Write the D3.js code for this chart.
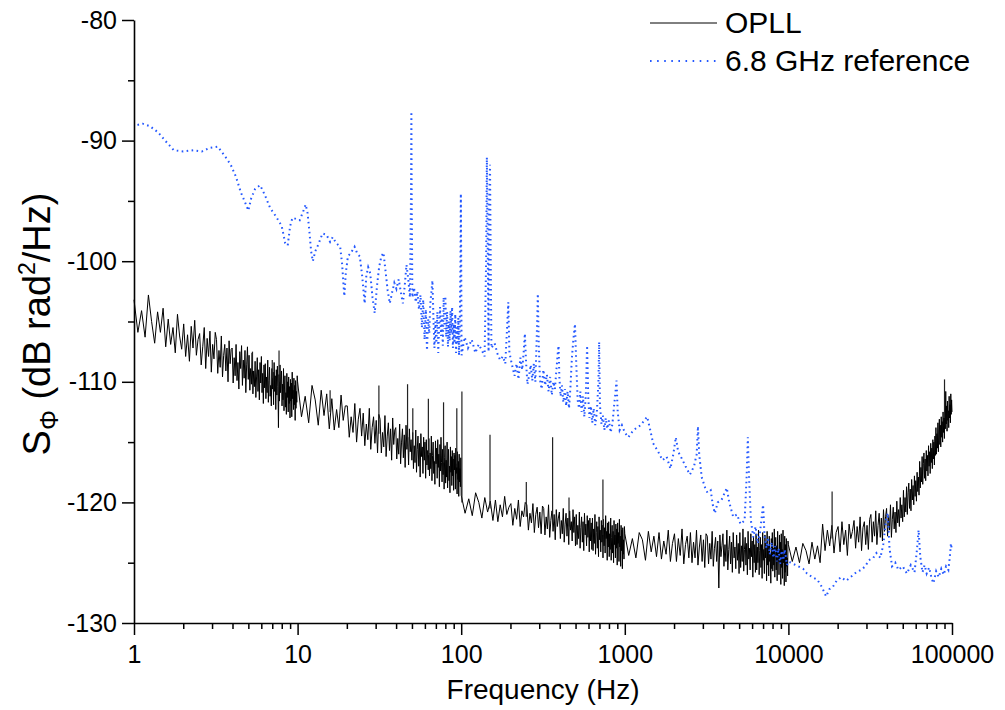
<!DOCTYPE html>
<html><head><meta charset="utf-8">
<script src="https://cdn.jsdelivr.net/npm/d3@7"></script>
<style>
body{margin:0;background:#fff}
text{font-family:"Liberation Sans",Arial,Helvetica,sans-serif;fill:#000}
</style>
</head><body>
<svg id="chart" width="1005" height="710"></svg>
<script>
// ---------- axis ticks ----------
const yTicks = [-130, -120, -110, -100, -90, -80];
const yMinorTicks = [-125, -115, -105, -95, -85];
const xTicks = [1, 10, 100, 1000, 10000, 100000];
const xTickLabels = ["1", "10", "100", "1000", "10000", "100000"];
const seriesNames = ["OPLL", "6.8 GHz reference"];

// ---------- OPLL trace: 160 analyser bins per decade, linearly spaced (dB rad^2/Hz) ----------
const opll1to10 = [
 -103.2,-105.9,-104.1,-106.3,-102.8,
 -105.0,-106.8,-104.2,-105.9,-103.9,-107.1,
 -104.8,-106.9,-105.5,-107.6,-104.4,-106.2,-107.3,
 -105.2,-107.9,-106.1,-108.3,-105.4,-107.2,-104.9,-107.8,-106.5,
 -106.0,-108.6,-107.1,-105.5,-108.9,-106.4,-107.9,-105.8,-109.2,-106.9,-108.1,-105.9,
 -106.5,-109.3,-107.4,-108.8,-106.2,-109.6,-107.8,-106.9,-109.1,-107.2,-110.0,-106.6,-108.5,-107.3,
 -107.2,-110.1,-108.0,-109.5,-106.9,-109.9,-108.4,-110.6,-107.5,-108.9,-107.0,-110.3,-108.2,-109.7,-107.4,-110.9,-108.6,-107.1,-109.8,
 -107.8,-110.7,-108.9,-110.2,-107.6,-111.0,-109.1,-110.4,-108.3,-111.3,-109.6,-108.0,-110.8,-109.0,-111.5,-108.4,-110.1,-107.9,-110.9,-109.3,-111.8,-108.6,-110.5,
 -108.5,-111.4,-109.6,-110.9,-108.2,-111.7,-109.9,-108.8,-111.2,-110.3,-112.0,-108.9,-110.6,-109.2,-111.9,-108.4,-110.8,-109.5,-112.3,-109.0,-111.1,-108.7,-110.4,-113.8,-109.4,-111.6,-108.6,-110.9,-109.8,
 -109.1,-112.0,-110.2,-111.5,-108.9,-112.4,-110.6,-109.5,-112.1,-110.9,-112.7,-109.3,-111.3,-110.0,-112.5,-109.6,-111.8,-110.4,-113.0,-109.8,-111.6,-110.1,-112.9,-109.2,-111.4,-110.7,-112.3,-109.7,-111.9,-110.3,-113.2,-109.9,-112.2,-110.8,-111.7,-109.5];
const opll10to100 = [
 -110.0,-112.9,-111.2,-113.4,-110.3,
 -111.5,-113.6,-110.7,-112.8,-111.0,-113.9,
 -111.4,-114.0,-112.3,-113.8,-111.1,-113.2,-112.0,
 -112.0,-114.6,-112.9,-114.2,-111.8,-115.0,-113.1,-112.2,-114.5,
 -112.6,-115.3,-113.5,-114.8,-112.2,-115.6,-113.8,-112.9,-115.1,-113.2,-115.9,-112.7,
 -113.1,-115.9,-114.2,-115.4,-112.8,-116.2,-114.5,-113.4,-115.7,-113.9,-116.5,-113.0,-115.2,-114.0,
 -113.8,-116.4,-114.7,-116.0,-113.5,-116.8,-115.0,-113.9,-116.3,-114.4,-117.1,-113.6,-115.6,-114.6,-116.9,-113.9,-115.8,-114.8,-116.5,
 -114.2,-117.2,-115.3,-116.7,-114.0,-117.5,-115.6,-114.5,-117.0,-115.1,-117.9,-114.3,-116.2,-115.4,-117.6,-114.6,-116.5,-115.0,-118.0,-114.8,-116.9,-115.7,-117.3,
 -114.7,-117.8,-115.9,-117.2,-114.5,-118.2,-116.1,-115.0,-117.6,-116.6,-118.5,-114.9,-116.8,-115.5,-118.0,-114.8,-117.1,-116.0,-118.7,-115.2,-117.4,-114.6,-116.7,-118.3,-115.6,-117.7,-115.1,-118.9,-116.3,
 -115.3,-118.4,-116.5,-117.9,-115.0,-118.8,-116.9,-115.6,-118.2,-117.0,-119.2,-115.4,-117.5,-116.2,-118.6,-115.7,-117.8,-116.4,-119.0,-115.9,-117.3,-116.1,-118.9,-115.5,-117.6,-116.8,-119.3,-115.8,-118.1,-116.6,-119.5,-116.0,-118.3,-117.2,-118.7,-116.3];
const opll100to1k = [
 -119.4,-120.9,-119.7,-121.1,-119.2,
 -120.0,-121.3,-119.6,-120.8,-119.9,-121.5,
 -119.8,-121.6,-120.2,-121.2,-119.5,-121.0,-120.4,
 -120.1,-121.9,-120.5,-121.4,-119.8,-122.0,-120.7,-121.2,-120.0,
 -120.2,-122.3,-120.9,-121.7,-120.1,-122.5,-121.0,-120.4,-122.1,-120.8,-122.6,-120.3,
 -120.5,-122.7,-121.2,-122.2,-120.2,-122.9,-121.5,-120.7,-122.4,-121.0,-123.1,-120.6,-122.0,-121.3,
 -120.8,-123.0,-121.5,-122.6,-120.5,-123.3,-121.8,-120.9,-122.8,-121.3,-123.5,-120.7,-122.3,-121.6,-123.2,-120.6,-122.5,-121.2,-123.6,
 -121.0,-123.5,-121.9,-123.0,-120.8,-123.8,-122.1,-121.2,-123.3,-121.6,-124.0,-120.9,-122.7,-121.8,-123.6,-121.1,-122.9,-121.5,-124.1,-121.3,-123.2,-121.7,-123.9,
 -121.3,-124.0,-122.2,-123.4,-121.0,-124.3,-122.5,-121.6,-123.8,-122.0,-124.5,-121.2,-123.1,-122.3,-124.1,-121.5,-123.3,-121.9,-124.6,-121.4,-123.6,-122.1,-124.2,-121.1,-123.0,-122.4,-124.8,-121.7,-123.7,
 -121.6,-124.5,-122.6,-123.9,-121.3,-124.8,-122.9,-121.9,-124.2,-122.4,-125.0,-121.5,-123.5,-122.7,-124.6,-121.8,-123.8,-122.2,-125.2,-121.7,-123.4,-122.5,-124.9,-121.4,-123.7,-122.8,-125.3,-121.9,-124.0,-122.3,-125.5,-122.1,-124.3,-123.1,-124.7,-122.0];
const opll1kto10k = [
 -122.6,-124.4,-123.0,-124.6,-122.5,
 -123.1,-124.8,-122.4,-124.1,-122.8,-124.5,
 -122.5,-124.7,-123.2,-124.3,-122.3,-124.9,-123.4,
 -122.6,-124.9,-123.0,-124.4,-122.2,-125.1,-123.5,-122.8,-124.6,
 -122.5,-125.0,-123.3,-124.6,-122.3,-125.2,-123.7,-122.7,-124.9,-123.1,-125.4,-122.6,
 -122.8,-125.1,-123.4,-124.7,-122.4,-125.3,-123.8,-122.9,-124.9,-123.2,-127.1,-122.7,-124.5,-123.6,
 -122.6,-125.3,-123.5,-124.9,-122.3,-125.6,-123.9,-122.8,-125.1,-123.3,-125.8,-122.5,-124.6,-123.7,-125.5,-122.7,-124.8,-123.4,-125.9,
 -122.5,-125.4,-123.6,-124.9,-122.2,-125.7,-123.9,-122.9,-125.2,-123.4,-126.0,-122.4,-124.7,-123.8,-125.6,-122.6,-124.5,-123.2,-126.2,-122.8,-125.0,-123.5,-125.8,
 -122.6,-125.6,-123.7,-125.0,-122.3,-126.0,-124.0,-122.9,-125.4,-123.5,-126.3,-122.5,-124.8,-123.9,-125.9,-122.7,-124.6,-123.3,-126.5,-122.4,-125.2,-123.6,-126.1,-122.8,-124.9,-124.2,-126.7,-123.0,-125.5,
 -122.5,-125.7,-123.8,-125.2,-122.2,-126.2,-124.1,-122.9,-125.6,-123.6,-126.5,-122.4,-124.9,-124.0,-126.0,-122.7,-125.1,-123.3,-126.8,-122.6,-125.4,-123.9,-126.3,-122.3,-125.0,-124.4,-126.9,-122.8,-125.8,-123.5,-126.6,-123.0,-125.3,-124.6,-126.1,-123.2];
const opll10kto100k = [
 -123.5,-124.9,-123.7,-125.0,-123.4,
 -124.0,-125.1,-123.3,-124.7,-123.6,-125.0,
 -121.8,-124.0,-122.3,-123.6,-121.9,-124.2,-122.5,
 -122.0,-124.1,-121.6,-123.5,-122.3,-124.4,-121.8,-123.0,-122.4,
 -121.5,-123.8,-122.0,-123.3,-121.2,-124.0,-122.1,-121.6,-123.5,-121.9,-123.9,-121.4,
 -121.0,-123.3,-121.6,-122.8,-120.7,-123.5,-121.9,-120.9,-122.9,-121.3,-123.2,-120.6,-122.4,-121.2,
 -120.5,-122.8,-121.1,-122.3,-120.2,-122.9,-121.4,-120.4,-122.2,-120.8,-122.5,-119.9,-121.7,-120.6,-122.0,-119.6,-121.3,-120.2,-121.6,
 -119.0,-121.2,-119.6,-120.8,-118.7,-121.0,-119.2,-118.4,-120.5,-118.9,-120.7,-118.1,-119.8,-118.6,-120.2,-117.8,-119.5,-118.2,-119.9,-117.5,-119.1,-117.9,-119.4,
 -116.6,-118.8,-117.1,-118.3,-116.2,-118.5,-116.8,-115.9,-118.0,-116.4,-118.2,-115.7,-117.4,-116.1,-117.8,-115.3,-117.0,-115.8,-117.6,-115.1,-116.7,-115.5,-117.2,-114.8,-116.4,-115.0,-116.9,-114.5,-116.1,
 -113.8,-116.0,-114.3,-115.5,-113.4,-115.8,-114.0,-113.1,-115.2,-113.6,-115.4,-112.9,-114.6,-113.3,-115.0,-112.5,-114.2,-113.0,-114.7,-112.2,-113.9,-110.8,-113.5,-112.0,-114.1,-111.6,-113.2,-112.4,-113.8,-111.2,-113.0,-111.9,-113.4,-111.0,-112.7,-111.5];
const opllAt100k = -112.5;

// narrow spurs on the OPLL trace
const spurFreq = [5.3, 7.0, 7.7, 15.8, 31.4, 47, 50.6, 63, 78, 94, 101, 150, 250, 362, 456, 735, 18500, 90000];
const spurTop  = [-107.5, -108.2, -107.4, -110.7, -110.3, -110.2, -112.2, -111.4, -111.7, -112.2, -110.8, -114.4, -118.3, -114.6, -119.6, -118.1, -119.1, -109.8];
const spurBase = [-109.1, -109.7, -110.0, -112.5, -114.3, -115.3, -115.5, -116.1, -116.7, -117.1, -120.0, -120.5, -121.2, -121.7, -122.0, -122.7, -123.0, -113.0];

// ---------- 6.8 GHz reference trace: [frequency Hz, dB] ----------
const ref1to50 = [[1.05,-88.7],[1.13,-88.6],[1.25,-88.8],[1.4,-89.3],[1.55,-90.0],[1.75,-90.8],[2.0,-90.9],
 [2.3,-90.8],[2.6,-90.9],[2.9,-90.6],[3.25,-90.5],[3.6,-91.3],[3.9,-92.0],[4.2,-93.0],[4.5,-94.3],
 [4.8,-95.2],[5.0,-95.8],[5.2,-94.8],[5.5,-94.0],[5.9,-93.7],[6.3,-94.5],[6.8,-95.6],[7.3,-96.2],
 [7.7,-96.7],[8.0,-97.1],[8.4,-98.5],[8.7,-98.7],[9.0,-97.1],[9.3,-96.4],[9.8,-96.5],[10.3,-96.6],
 [10.8,-95.9],[11.2,-95.3],[11.5,-96.0],[11.8,-97.5],[12.1,-99.2],[12.4,-100.0],[12.8,-99.2],
 [13.4,-98.6],[14.2,-97.7],[15.0,-97.8],[15.8,-98.4],[16.4,-98.0],[17.2,-98.5],[18.2,-98.8],
 [18.7,-100.2],[19.3,-102.9],[19.7,-101.0],[20.3,-99.6],[21.2,-99.3],[22.3,-98.8],[23.2,-99.4],
 [24.0,-99.6],[24.8,-101.2],[25.7,-103.5],[26.3,-101.2],[27.0,-100.5],[27.8,-101.0],[28.7,-103.0],
 [29.6,-104.3],[30.6,-102.0],[31.5,-100.5],[32.5,-99.6],[33.5,-99.3],[34.4,-100.7],[35.5,-102.4],
 [36.6,-103.5],[37.8,-102.6],[39.0,-101.8],[40.2,-102.3],[41.5,-101.5],[42.8,-102.6],[44.0,-103.5],
 [45.2,-102.0],[46.3,-100.3],[47.5,-101.5],[48.6,-103.0],[49.3,-95.0],[49.6,-87.6],[49.9,-96.0]];
const ref50to100 = [[50.3,-103.0],[51.5,-102.2],[52.8,-103.4],[54,-102.5],[55.2,-104.0],[56.4,-102.8],
 [57.5,-105.5],[58.6,-103.2],[59.7,-106.5],[60.8,-104.0],[61.8,-107.4],[62.8,-104.8],[63.8,-106.0],
 [64.7,-103.5],[65.7,-102.6],[66.7,-101.6],[67.6,-104.5],[68.6,-107.2],[69.6,-105.0],[70.5,-106.8],
 [71.5,-104.2],[72.4,-107.6],[73.4,-105.3],[74.3,-103.8],[75.3,-106.2],[76.2,-104.5],[77.2,-107.0],
 [78.1,-103.0],[79.1,-105.6],[80,-102.9],[81,-106.3],[82,-104.2],[83,-107.1],[84,-105.0],[85,-106.6],
 [86,-104.1],[87,-106.0],[88,-103.8],[89,-107.2],[90,-105.2],[91,-106.8],[92,-104.4],[93,-107.6],
 [94,-105.5],[95,-106.9],[96,-104.7],[97,-107.8],[98,-105.3],[99,-100.0],[99.5,-94.4],[100,-100.0]];
const ref100to1k = [[100.5,-107.8],[105,-106.3],[110,-107.2],[116,-106.5],[122,-107.6],[128,-106.9],
 [134,-107.4],[139,-107.9],[142,-100.0],[143.5,-91.4],[145,-98.0],[147,-107.5],[148.5,-95.0],
 [150,-92.0],[151.5,-100.0],[153,-107.2],[160,-106.8],[167,-107.7],[173,-108.2],[180,-107.9],
 [186,-108.5],[190,-106.0],[194,-103.4],[197,-107.5],[200,-108.0],[206,-108.8],[212,-109.5],
 [218,-108.5],[224,-109.8],[230,-108.0],[236,-109.0],[241,-107.5],[245,-106.0],[249,-108.3],
 [254,-110.2],[260,-109.5],[266,-108.6],[272,-109.9],[278,-108.5],[284,-110.0],[290,-106.0],
 [294,-102.7],[298,-107.0],[303,-109.8],[310,-110.6],[318,-109.0],[326,-110.3],[334,-109.4],
 [342,-110.8],[350,-109.6],[358,-111.1],[366,-110.0],[374,-110.6],[382,-109.0],[390,-107.5],
 [394,-107.0],[398,-109.6],[405,-111.2],[413,-110.3],[421,-111.7],[430,-110.6],[438,-112.0],
 [447,-110.8],[456,-112.2],[465,-110.5],[475,-108.0],[485,-106.5],[496,-105.2],[505,-108.5],
 [515,-111.5],[525,-112.2],[535,-110.8],[545,-112.5],[555,-111.2],[566,-112.9],[578,-111.0],
 [588,-107.0],[598,-111.3],[608,-113.0],[620,-112.0],[632,-113.4],[645,-112.2],[660,-113.6],
 [675,-112.5],[690,-110.0],[697,-106.7],[705,-112.0],[720,-113.5],[735,-112.8],[750,-114.0],
 [765,-113.0],[780,-113.9],[800,-113.2],[820,-114.2],[840,-113.5],[860,-112.0],[875,-111.0],
 [890,-109.9],[905,-112.5],[930,-114.0],[960,-113.6],[1000,-114.2]];
const ref1kto10k = [[1050,-114.6],[1130,-114.0],[1250,-113.6],[1370,-112.9],[1430,-114.0],[1490,-115.1],
 [1600,-115.8],[1700,-116.5],[1800,-116.2],[1900,-117.2],[1980,-116.0],[2050,-114.6],[2120,-115.8],
 [2200,-116.2],[2350,-117.0],[2500,-117.7],[2650,-117.0],[2750,-116.0],[2800,-113.7],[2850,-116.0],
 [2950,-117.9],[3100,-118.8],[3200,-119.2],[3350,-119.0],[3450,-120.2],[3550,-120.9],[3700,-120.0],
 [3900,-119.8],[4050,-119.3],[4200,-118.8],[4350,-120.0],[4600,-121.2],[4850,-121.0],[5100,-121.8],
 [5400,-121.5],[5550,-118.0],[5650,-114.6],[5750,-118.0],[5900,-121.5],[6100,-122.9],[6300,-122.0],
 [6500,-123.4],[6700,-122.5],[6900,-121.0],[7000,-120.2],[7150,-122.8],[7350,-123.8],[7500,-122.9],
 [7700,-124.3],[7900,-123.3],[8100,-124.6],[8300,-123.6],[8500,-124.9],[8700,-123.8],[8900,-125.1],
 [9100,-124.0],[9300,-124.8],[9500,-123.9],[9800,-125.2],[10000,-124.9]];
const ref10kto100k = [[10700,-125.1],[11500,-125.3],[12300,-125.5],[13000,-125.9],[14000,-126.2],
 [15000,-126.4],[16000,-127.0],[17000,-127.8],[17800,-127.2],[18700,-127.0],[19700,-126.5],
 [21000,-126.2],[22500,-126.5],[24000,-126.2],[26000,-125.8],[27800,-125.6],[29500,-125.3],
 [31000,-124.8],[33000,-124.6],[34500,-124.2],[36500,-124.6],[38000,-123.5],[39500,-121.5],
 [40500,-120.9],[41500,-123.8],[43000,-125.3],[45000,-125.0],[47000,-125.6],[50000,-125.3],
 [53000,-125.9],[56000,-125.2],[59000,-125.8],[61000,-124.0],[62500,-122.3],[64000,-124.5],
 [66000,-125.8],[68000,-125.2],[70000,-125.9],[72500,-125.4],[75000,-126.3],[77000,-126.7],
 [80000,-125.7],[83000,-126.2],[86000,-125.5],[89000,-126.0],[92000,-125.3],[95000,-125.6],
 [97000,-124.5],[98500,-123.4],[100000,-124.0]];

// ---------- build ----------
const svg = d3.select("#chart");
const x = d3.scaleLog().domain([1, 100000]).range([134, 952]);
const y = d3.scaleLinear().domain([-130, -80]).range([623, 20]);

const opllDecades = [opll1to10, opll10to100, opll100to1k, opll1kto10k, opll10kto100k];
const opll = [];
opllDecades.forEach((vals, d) => vals.forEach((v, i) =>
  opll.push([Math.pow(10, d) * (1 + 9 * i / vals.length), v])));
opll.push([100000, opllAt100k]);
const ref = [].concat(ref1to50, ref50to100, ref100to1k, ref1kto10k, ref10kto100k);

const line = d3.line().x(d => x(d[0])).y(d => y(d[1]));

// OPLL
svg.append("path").datum(opll).attr("d", line)
  .attr("fill", "none").attr("stroke", "#000").attr("stroke-width", 1).attr("stroke-linejoin", "round");
svg.append("g").selectAll("path").data(spurFreq).join("path")
  .attr("d", (f, i) => line([[f, spurBase[i]], [f, spurTop[i]]]))
  .attr("stroke", "#222").attr("stroke-width", 1.2).attr("fill", "none");

// reference
svg.append("path").datum(ref).attr("d", line)
  .attr("fill", "none").attr("stroke", "#2458ff").attr("stroke-width", 2)
  .attr("stroke-dasharray", "1.6,3.4");

// axes
const fs = 25;
const yAxis = d3.axisLeft(y).tickValues(yTicks).tickSize(12).tickSizeOuter(0).tickPadding(5)
  .tickFormat(d => String(d));
const gy = svg.append("g").attr("transform", "translate(134,0)").call(yAxis);
gy.append("g").call(d3.axisLeft(y).tickValues(yMinorTicks).tickSize(6).tickFormat(""))
  .select(".domain").remove();
const minorX = [];
for (let k = 0; k < 5; k++) for (let m = 2; m <= 9; m++) minorX.push(m * Math.pow(10, k));
const xAxis = d3.axisBottom(x).tickValues(xTicks).tickSize(12).tickSizeOuter(0).tickPadding(10)
  .tickFormat((d, i) => xTickLabels[i]);
const gx = svg.append("g").attr("transform", "translate(0,623)").call(xAxis);
gx.append("g").call(d3.axisBottom(x).tickValues(minorX).tickSize(6).tickFormat(""))
  .select(".domain").remove();
svg.selectAll(".domain").attr("stroke", "#000").attr("stroke-width", 1.6);
svg.selectAll(".tick line").attr("stroke", "#000").attr("stroke-width", 1.5);
svg.selectAll(".tick text").attr("font-size", fs).attr("font-family", "Liberation Sans, Arial, sans-serif").attr("fill", "#000");

// axis titles
svg.append("text").attr("x", 543).attr("y", 699).attr("text-anchor", "middle")
  .attr("font-size", 28).text("Frequency (Hz)");
const yt = svg.append("text").attr("transform", "translate(50,324) rotate(-90)")
  .attr("text-anchor", "middle").attr("font-size", 38);
yt.append("tspan").text("S");
yt.append("tspan").attr("font-size", 25).attr("dy", 8).text("\u03A6");
yt.append("tspan").attr("dy", -8).text(" (dB rad");
yt.append("tspan").attr("font-size", 23).attr("dy", -15).text("2");
yt.append("tspan").attr("dy", 15).text("/Hz)");

// legend
const leg = svg.append("g");
leg.append("line").attr("x1", 650).attr("x2", 717).attr("y1", 23).attr("y2", 23)
  .attr("stroke", "#000").attr("stroke-width", 1);
leg.append("text").attr("x", 725).attr("y", 33).attr("font-size", 30).text(seriesNames[0]);
leg.append("line").attr("x1", 650).attr("x2", 717).attr("y1", 61).attr("y2", 61)
  .attr("stroke", "#2458ff").attr("stroke-width", 2).attr("stroke-dasharray", "1.6,5.5");
leg.append("text").attr("x", 725).attr("y", 71).attr("font-size", 30).text(seriesNames[1]);
</script>
</body></html>
